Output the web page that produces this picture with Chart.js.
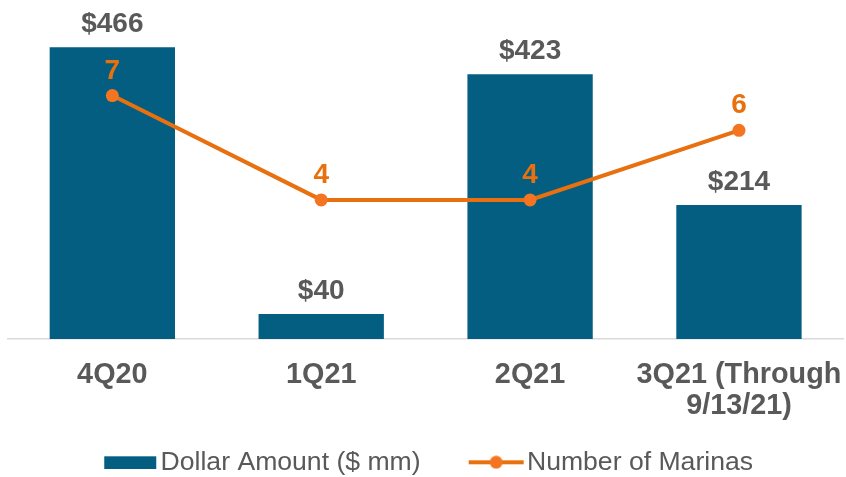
<!DOCTYPE html>
<html>
<head>
<meta charset="utf-8">
<script src="https://cdn.jsdelivr.net/npm/chart.js@4"></script>
<style>
html,body{margin:0;padding:0;background:#fff;}
#wrap{width:846px;height:477px;position:relative;}
</style>
</head>
<body>
<div id="wrap"><canvas id="c"></canvas></div>
<script>
const categories = ['4Q20', '1Q21', '2Q21', ['3Q21 (Through', '9/13/21)']];
const dollarAmount = [466, 40, 423, 214];
const numberOfMarinas = [7, 4, 4, 6];
const seriesNames = ['Dollar Amount ($ mm)', 'Number of Marinas'];

const BAR_COLOR = '#035E82';
const LINE_COLOR = '#E8700E';
const POINT_COLOR = '#F37521';
const TEXT_GRAY = '#595959';
const FONT = '"Liberation Sans", Arial, sans-serif';

// legend symbols
function makeBarSymbol() {
  const c = document.createElement('canvas');
  c.width = 73; c.height = 14;
  const g = c.getContext('2d');
  g.fillStyle = BAR_COLOR;
  g.fillRect(18, 1, 52, 13);
  return c;
}
function makeLineSymbol() {
  const c = document.createElement('canvas');
  c.width = 73; c.height = 14;
  const g = c.getContext('2d');
  g.strokeStyle = LINE_COLOR;
  g.lineWidth = 4;
  g.beginPath(); g.moveTo(16, 7); g.lineTo(71, 7); g.stroke();
  g.fillStyle = POINT_COLOR;
  g.beginPath(); g.arc(43.5, 7, 6.5, 0, Math.PI * 2); g.fill();
  return c;
}
const barSymbol = makeBarSymbol();
const lineSymbol = makeLineSymbol();

const valueLabels = {
  id: 'valueLabels',
  afterDatasetsDraw(chart) {
    const ctx = chart.ctx;
    ctx.save();
    ctx.textAlign = 'center';
    ctx.textBaseline = 'alphabetic';
    chart.data.datasets.forEach((ds, di) => {
      const meta = chart.getDatasetMeta(di);
      meta.data.forEach((el, i) => {
        const v = ds.data[i];
        ctx.font = 'bold 28px ' + FONT;
        if (ds.type === 'bar') {
          ctx.fillStyle = TEXT_GRAY;
          ctx.fillText('$' + v, el.x, el.y - 15);
        } else {
          ctx.fillStyle = LINE_COLOR;
          ctx.fillText(String(v), el.x, el.y - 17);
        }
      });
    });
    ctx.restore();
  }
};

// let the two-line category label extend below the (shortened) axis box
const axisLabelRoom = {
  id: 'axisLabelRoom',
  afterLayout(chart) {
    chart.scales.x.bottom = chart.height;
  }
};

new Chart(document.getElementById('c'), {
  data: {
    labels: categories,
    datasets: [
      {
        type: 'line',
        label: seriesNames[1],
        data: numberOfMarinas,
        yAxisID: 'y1',
        borderColor: LINE_COLOR,
        borderWidth: 4,
        tension: 0,
        pointRadius: 6.5,
        pointHoverRadius: 6.5,
        pointBackgroundColor: POINT_COLOR,
        pointBorderWidth: 0,
        fill: false
      },
      {
        type: 'bar',
        label: seriesNames[0],
        data: dollarAmount,
        yAxisID: 'y',
        backgroundColor: BAR_COLOR,
        barPercentage: 0.6,
        categoryPercentage: 1.0
      }
    ]
  },
  options: {
    responsive: true,
    maintainAspectRatio: false,
    animation: false,
    layout: { autoPadding: false, padding: { top: 26, left: 7.9, right: 2.6, bottom: 0 } },
    plugins: {
      tooltip: { enabled: false },
      legend: {
        position: 'bottom',
        maxHeight: 72,
        labels: {
          usePointStyle: true,
          pointStyleWidth: 49,
          padding: 44,
          color: TEXT_GRAY,
          font: { family: FONT, size: 26.6 },
          sort: (a, b) => b.datasetIndex - a.datasetIndex,
          generateLabels(chart) {
            const items = Chart.defaults.plugins.legend.labels.generateLabels(chart);
            items.forEach(it => {
              it.pointStyle = it.datasetIndex === 1 ? barSymbol : lineSymbol;
            });
            return items;
          }
        }
      }
    },
    scales: {
      x: {
        grid: { display: false, drawTicks: false },
        border: { display: true, color: '#D9D9D9', width: 1.5 },
        afterFit(scale) {
          scale.paddingLeft = 0;
          scale.paddingRight = 0;
          scale.height = 66;
        },
        ticks: {
          autoSkip: false,
          maxRotation: 0,
          minRotation: 0,
          padding: 20,
          color: TEXT_GRAY,
          font: { family: FONT, size: 28.8, weight: 'bold', lineHeight: 1.1 }
        }
      },
      y: { display: false, min: 0, max: 500 },
      y1: { display: false, min: 0, max: 9, position: 'right' }
    }
  },
  plugins: [valueLabels, axisLabelRoom]
});
</script>
</body>
</html>
